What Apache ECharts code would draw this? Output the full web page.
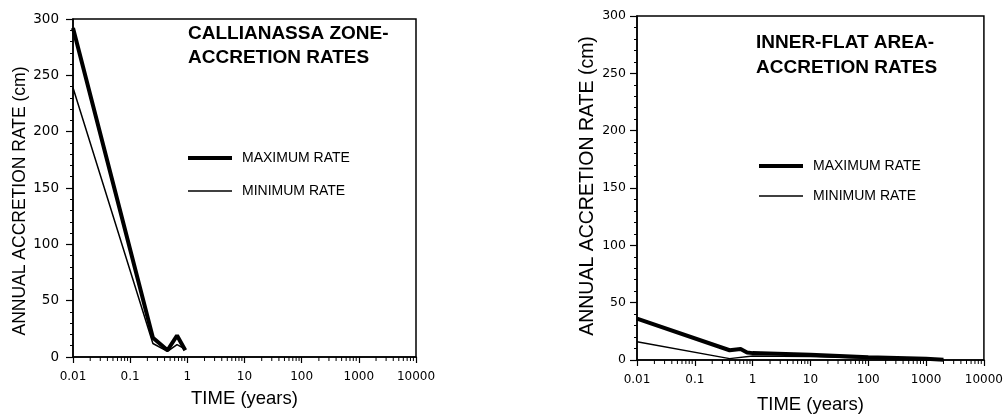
<!DOCTYPE html>
<html>
<head>
<meta charset="utf-8">
<script src="https://cdn.jsdelivr.net/npm/echarts@6/dist/echarts.min.js"></script>
<style>
html,body{margin:0;padding:0;background:#fff;}
#c{width:1006px;height:419px;}
</style>
</head>
<body>
<div id="c"></div>
<script>
// ---- data ----
const seriesNames = ['MAXIMUM RATE', 'MINIMUM RATE'];
// Left panel: Callianassa zone  [time (years), rate (cm)]
const callMax = [[0.01, 292], [0.25, 17], [0.45, 6], [0.66, 19], [0.92, 6]];
const callMin = [[0.01, 239], [0.25, 12], [0.45, 5], [0.66, 11], [0.92, 7]];
// Right panel: inner-flat area
const innerMax = [[0.01, 36], [0.4, 8.5], [0.62, 9.5], [0.8, 6.5], [1, 6], [10, 4.5], [100, 2.5], [1000, 1], [2000, 0.2]];
const innerMin = [[0.01, 16], [0.4, 1.2], [1, 3.5], [10, 3], [100, 1.5], [1000, 0.5], [2000, 0.1]];
// Axis tick labels
const xTickLabels = ['0.01', '0.1', '1', '10', '100', '1000', '10000'];
const yTicks = [0, 50, 100, 150, 200, 250, 300];
// log minor tick positions (2..9 x 10^k)
const xMinorTicks = [];
[0.01, 0.1, 1, 10, 100, 1000].forEach(function (d) {
  for (let m = 2; m <= 9; m++) xMinorTicks.push([+(m * d).toPrecision(3), 0]);
});

const FONT = 'Liberation Sans, Arial, Helvetica, sans-serif';
const NUMFONT = 'DejaVu Sans, sans-serif';
const chart = echarts.init(document.getElementById('c'));

function xAxis(gi, nameGap) {
  return {
    type: 'log', logBase: 10, gridIndex: gi, min: 0.01, max: 10000,
    name: 'TIME (years)', nameLocation: 'middle', nameGap: nameGap,
    nameTextStyle: { fontSize: 18.5, color: '#000', fontFamily: FONT },
    axisLine: { lineStyle: { color: '#000', width: 1.5 } },
    axisTick: { show: true, length: 6, lineStyle: { color: '#000', width: 1.2 } },
    minorTick: { show: false },
    splitLine: { show: false },
    axisLabel: {
      color: '#000', fontSize: 12, fontFamily: NUMFONT, margin: 14,
      formatter: function (v) { return xTickLabels[Math.round(Math.log10(v)) + 2]; }
    }
  };
}
function yAxis(gi, fs, margin) {
  return {
    type: 'value', gridIndex: gi, min: yTicks[0], max: yTicks[yTicks.length - 1], interval: 50,
    axisLine: { show: true, lineStyle: { color: '#000', width: 1.5 } },
    axisTick: { show: true, length: 7, lineStyle: { color: '#000', width: 1.2 } },
    minorTick: { show: true, splitNumber: 5, length: 3, lineStyle: { color: '#000', width: 1 } },
    splitLine: { show: false },
    axisLabel: { color: '#000', fontSize: fs, fontFamily: NUMFONT, margin: margin }
  };
}
function lineSeries(name, data, gi, w) {
  return {
    type: 'line', name: name, data: data, xAxisIndex: gi, yAxisIndex: gi,
    symbol: 'none', smooth: false, animation: false,
    lineStyle: { color: '#000', width: w }, itemStyle: { color: '#000' }
  };
}
function minorTickSeries(gi) {
  return {
    type: 'custom', xAxisIndex: gi, yAxisIndex: gi, data: xMinorTicks, clip: false,
    silent: true, animation: false,
    renderItem: function (params, api) {
      const p = api.coord([api.value(0), api.value(1)]);
      return { type: 'line', shape: { x1: p[0], y1: p[1], x2: p[0], y2: p[1] + 4 },
               style: { stroke: '#000', lineWidth: 1 } };
    }
  };
}
function legendItem(name, left, centerY, h) {
  return {
    data: [{ name: name, icon: 'rect', itemStyle: { color: '#000', borderWidth: 0 } }],
    left: left, top: centerY - 8, padding: 0,
    itemWidth: 44, itemHeight: h, selectedMode: false,
    textStyle: { color: '#000', fontSize: 14, fontFamily: FONT, padding: [0, 0, 0, 5], lineHeight: 16 }
  };
}

chart.setOption({
  backgroundColor: '#fff',
  animation: false,
  title: [
    { text: 'CALLIANASSA ZONE-\nACCRETION RATES', left: 188, top: 22, padding: 0,
      textStyle: { fontSize: 19, fontWeight: 'bold', color: '#000', lineHeight: 24, fontFamily: FONT } },
    { text: 'INNER-FLAT AREA-\nACCRETION RATES', left: 756, top: 30, padding: 0,
      textStyle: { fontSize: 19, fontWeight: 'bold', color: '#000', lineHeight: 25, fontFamily: FONT } }
  ],
  legend: [
    legendItem(seriesNames[0], 188, 158, 4),
    legendItem(seriesNames[1], 188, 191, 1.5),
    legendItem(seriesNames[0], 759, 166, 4),
    legendItem(seriesNames[1], 759, 196, 1.5)
  ],
  grid: [
    { left: 73, top: 19, width: 343, height: 338, show: true, borderColor: '#000', borderWidth: 1.5, backgroundColor: 'transparent' },
    { left: 637, top: 16, width: 348, height: 349, show: true, borderColor: '#000', borderWidth: 1.5, backgroundColor: 'transparent' }
  ],
  xAxis: [xAxis(0, 32), xAxis(1, 35)],
  yAxis: [yAxis(0, 13.5, 14), yAxis(1, 12.5, 11)],
  graphic: [
    { type: 'text', x: 20, y: 201, rotation: Math.PI / 2,
      style: { text: 'ANNUAL ACCRETION RATE (cm)', fontSize: 17.5, fontFamily: FONT, fill: '#000', textAlign: 'center', textVerticalAlign: 'middle' } },
    { type: 'text', x: 588, y: 186, rotation: Math.PI / 2,
      style: { text: 'ANNUAL ACCRETION RATE (cm)', fontSize: 19.5, fontFamily: FONT, fill: '#000', textAlign: 'center', textVerticalAlign: 'middle' } }
  ],
  series: [
    lineSeries(seriesNames[0], callMax, 0, 4),
    lineSeries(seriesNames[1], callMin, 0, 1.5),
    lineSeries(seriesNames[0], innerMax, 1, 4),
    lineSeries(seriesNames[1], innerMin, 1, 1.5),
    minorTickSeries(0),
    minorTickSeries(1)
  ]
});
</script>
</body>
</html>
